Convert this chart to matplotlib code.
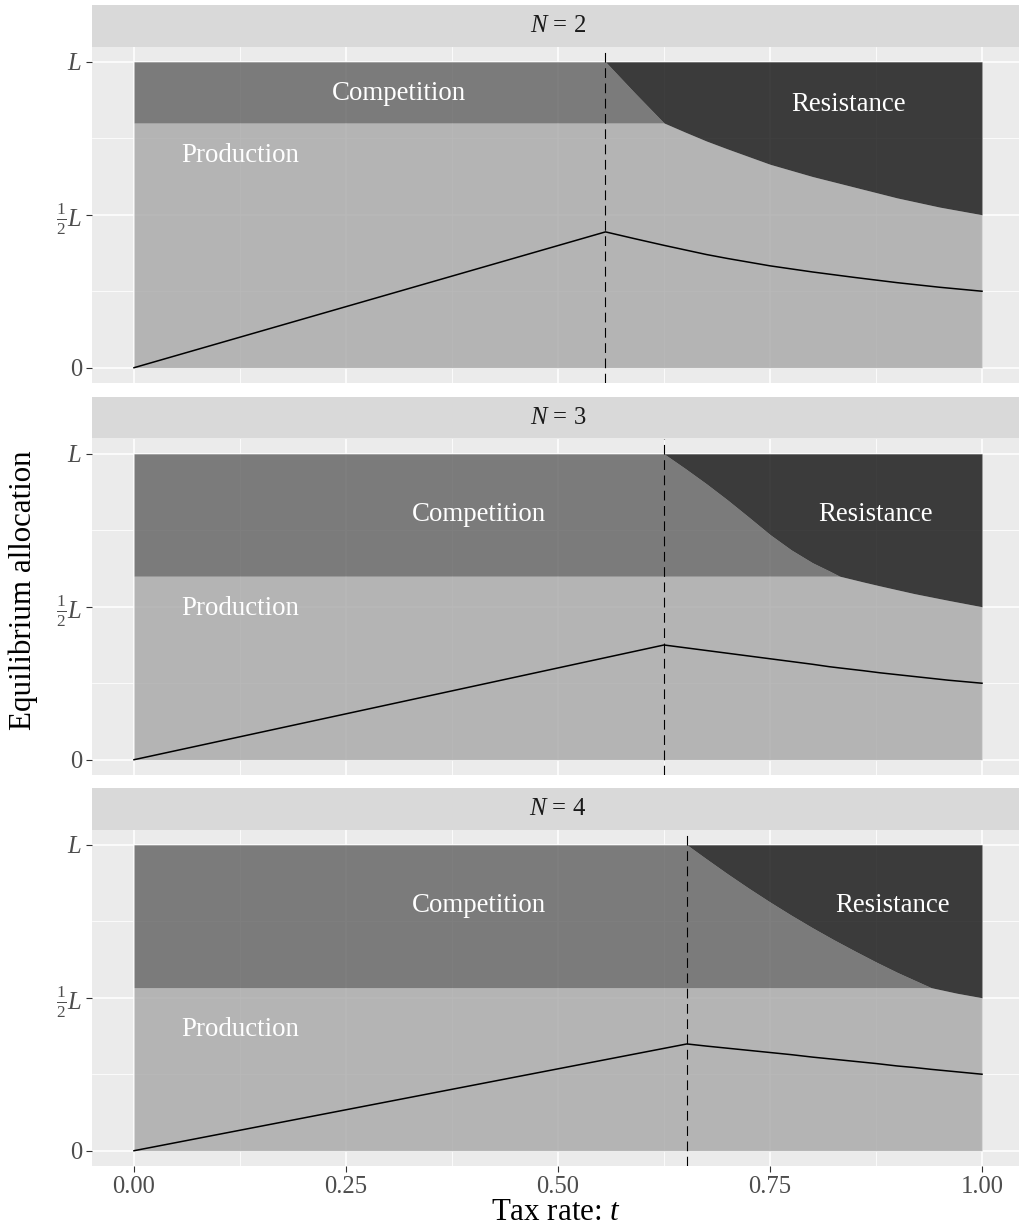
import matplotlib
matplotlib.use('Agg')
import matplotlib.pyplot as plt

plt.rcParams['font.family'] = ['Liberation Serif', 'DejaVu Serif']
plt.rcParams['mathtext.fontset'] = 'custom'
plt.rcParams['mathtext.rm'] = 'Liberation Serif'
plt.rcParams['mathtext.it'] = 'Liberation Serif:italic'
plt.rcParams['lines.scale_dashes'] = False

# equilibrium allocations read per number of groups N
n_values = [2, 3, 4]
t_star = [0.556, 0.625, 0.652]

t_n2 = [0.0, 0.556, 0.59, 0.625, 0.65, 0.675, 0.70, 0.725, 0.75, 0.80, 0.85, 0.90, 0.95, 1.0]
prod_n2 = [0.80, 0.80, 0.80, 0.80, 0.77, 0.741, 0.715, 0.69, 0.665, 0.625, 0.59, 0.555, 0.525, 0.50]
comp_n2 = [1.0, 1.0, 0.90, 0.80, 0.77, 0.741, 0.715, 0.69, 0.665, 0.625, 0.59, 0.555, 0.525, 0.50]
line_n2 = [0.0, 0.444, 0.422, 0.40, 0.385, 0.370, 0.357, 0.345, 0.333, 0.313, 0.295, 0.278, 0.263, 0.25]

t_n3 = [0.0, 0.625, 0.65, 0.675, 0.70, 0.725, 0.75, 0.775, 0.80, 0.82, 0.832,
        0.86, 0.88, 0.92, 0.96, 1.0]
prod_n3 = [0.60, 0.60, 0.60, 0.60, 0.60, 0.60, 0.60, 0.60, 0.60, 0.60, 0.60,
           0.581, 0.568, 0.543, 0.521, 0.50]
comp_n3 = [1.0, 1.0, 0.952, 0.902, 0.849, 0.793, 0.736, 0.686, 0.644, 0.617, 0.60,
           0.581, 0.568, 0.543, 0.521, 0.50]
line_n3 = [0.0, 0.375, 0.366, 0.357, 0.348, 0.339, 0.330, 0.321, 0.312, 0.304, 0.30,
           0.291, 0.284, 0.272, 0.26, 0.25]

t_n4 = [0.0, 0.652, 0.675, 0.70, 0.725, 0.75, 0.775, 0.80, 0.825, 0.85, 0.875,
        0.90, 0.92, 0.94, 0.97, 1.0]
prod_n4 = [0.533, 0.533, 0.533, 0.533, 0.533, 0.533, 0.533, 0.533, 0.533, 0.533, 0.533,
           0.533, 0.533, 0.533, 0.515, 0.50]
comp_n4 = [1.0, 1.0, 0.954, 0.905, 0.858, 0.813, 0.770, 0.729, 0.690, 0.653, 0.617,
           0.583, 0.558, 0.533, 0.515, 0.50]
line_n4 = [0.0, 0.349, 0.342, 0.335, 0.328, 0.321, 0.314, 0.306, 0.299, 0.292, 0.285,
           0.277, 0.272, 0.266, 0.258, 0.25]

# label positions (t, allocation) for each panel
comp_pos = [(0.312, 0.895), (0.407, 0.80), (0.407, 0.80)]
resist_pos = [(0.843, 0.86), (0.875, 0.80), (0.894, 0.80)]
prod_pos = [(0.125, 0.695), (0.125, 0.495), (0.125, 0.395)]

x_ticks = [0.0, 0.25, 0.5, 0.75, 1.0]
x_labels = ['0.00', '0.25', '0.50', '0.75', '1.00']
y_ticks = [0.0, 0.5, 1.0]
y_labels = ['0', r'$\frac{1}{2}L$', r'$L$']

panels = [(t_n2, prod_n2, comp_n2, line_n2),
          (t_n3, prod_n3, comp_n3, line_n3),
          (t_n4, prod_n4, comp_n4, line_n4)]

W, H = 1020, 1232
fig = plt.figure(figsize=(W / 100, H / 100), dpi=100)


def box(x0, y0, x1, y1):
    return [x0 / W, 1 - y1 / H, (x1 - x0) / W, (y1 - y0) / H]


left, right = 91.6, 1024.4
strip_tops = [5, 397, 788]
strip_h = 41.5
panel_h = 336.5

for i, (t, prod, comp, line) in enumerate(panels):
    top = strip_tops[i]
    sax = fig.add_axes(box(left, top, right, top + strip_h))
    sax.set_facecolor('#d9d9d9')
    sax.set_xticks([])
    sax.set_yticks([])
    for s in sax.spines.values():
        s.set_visible(False)
    sax.text(0.5, 0.5, r'$N$ = %d' % n_values[i], transform=sax.transAxes,
             ha='center', va='center', fontsize=17.8, color='#1a1a1a')

    ax = fig.add_axes(box(left, top + strip_h, right, top + strip_h + panel_h))
    ax.set_facecolor('#ebebeb')
    ax.set_xlim(-0.05, 1.05)
    ax.set_ylim(-0.05, 1.05)
    ax.set_axisbelow(True)
    for s in ax.spines.values():
        s.set_visible(False)
    ax.set_xticks(x_ticks)
    ax.set_xticks([0.125, 0.375, 0.625, 0.875], minor=True)
    ax.set_yticks(y_ticks)
    ax.set_yticks([0.25, 0.75], minor=True)
    ax.grid(which='major', color='white', lw=1.1)
    ax.grid(which='minor', color='white', lw=0.55)
    ax.tick_params(which='minor', length=0)
    ax.tick_params(which='major', length=4, width=0.8, color='#333333',
                   labelsize=17.7, labelcolor='#4d4d4d', pad=3)
    ax.set_yticklabels(y_labels)
    if i == 2:
        ax.set_xticklabels(x_labels)
    else:
        ax.tick_params(axis='x', length=0, labelbottom=False)

    # areas: production, competition, resistance
    ax.fill_between(t, 0, prod, color='#a7a7a7', alpha=0.8, lw=0)
    ax.fill_between(t, prod, comp, color='#5f5f5f', alpha=0.8, lw=0)
    ax.fill_between(t, comp, 1, color='#0f0f0f', alpha=0.8, lw=0)
    ax.plot(t, line, color='black', lw=1.1)
    ax.axvline(t_star[i], color='black', lw=0.8, linestyle=(0, (7, 4)))

    kw = dict(ha='center', va='center', fontsize=19.4, color='white')
    ax.text(*comp_pos[i], 'Competition', **kw)
    ax.text(*resist_pos[i], 'Resistance', **kw)
    ax.text(*prod_pos[i], 'Production', **kw)

fig.text(23 / W, 1 - 590 / H, 'Equilibrium allocation', rotation=90,
         ha='center', va='center', fontsize=22.3)
fig.text(556 / W, 1 - 1212 / H, 'Tax rate: $t$', ha='center', va='center',
         fontsize=22.3)

fig.savefig('out.png', dpi=100)
